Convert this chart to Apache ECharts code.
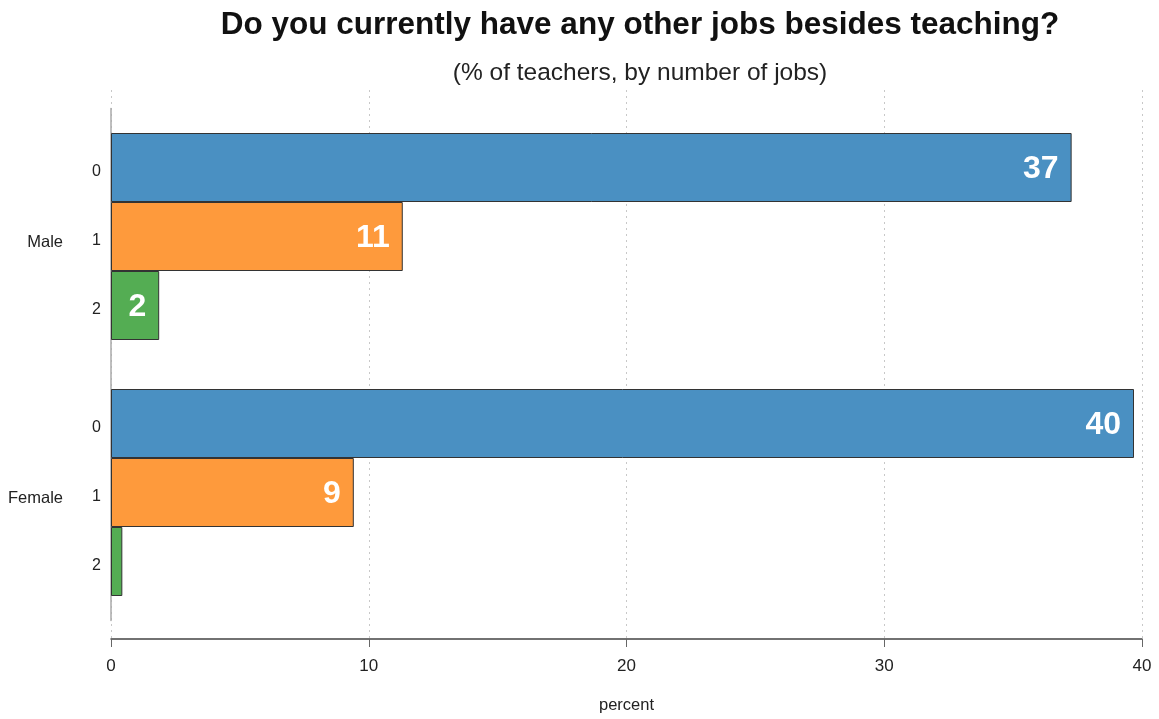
<!DOCTYPE html>
<html>
<head>
<meta charset="UTF-8">
<title>Other jobs besides teaching</title>
<script src="https://cdn.jsdelivr.net/npm/echarts@6/dist/echarts.min.js"></script>
<style>
  html, body { margin: 0; padding: 0; background: #fff; }
  #main { width: 1159px; height: 719px; }
</style>
</head>
<body>
<div id="main"></div>
<script type="text/javascript">
// data
var genders = ['Male', 'Female'];
var jobCounts = ['0', '1', '2'];
var jobs0 = [37.27, 39.69];
var jobs1 = [11.32, 9.42];
var jobs2 = [1.87, 0.44];
var xTicks = [0, 10, 20, 30, 40];

var FONT = "'Liberation Sans', Arial, sans-serif";
var colors = ['#4a90c2', '#fe9a3c', '#54ad53'];
var valueSets = [jobs0, jobs1, jobs2];

var myChart = echarts.init(document.getElementById('main'));

var series = [];
jobCounts.forEach(function (name, i) {
    // zero-length bar only to carry the "0 / 1 / 2" label left of each bar
    series.push({
        name: 'lbl' + name,
        type: 'bar',
        xAxisIndex: 1,
        yAxisIndex: 1,
        stack: 's' + i,
        barWidth: 69,
        barGap: '0%',
        silent: true,
        itemStyle: { color: 'rgba(0,0,0,0)' },
        label: {
            show: true,
            position: 'left',
            distance: 10,
            offset: [0, 4],
            formatter: function () { return name; },
            color: '#222',
            fontSize: 16,
            fontFamily: FONT
        },
        data: genders.map(function () { return 0; })
    });
    series.push({
        name: name,
        type: 'bar',
        xAxisIndex: 1,
        yAxisIndex: 1,
        stack: 's' + i,
        barWidth: 69,
        barGap: '0%',
        itemStyle: { color: colors[i], borderColor: '#333', borderWidth: 1 },
        label: {
            show: true,
            position: 'insideRight',
            distance: 13,
            offset: [0, 2],
            color: '#fff',
            fontSize: 32,
            fontWeight: 'bold',
            fontFamily: FONT,
            formatter: function (p) { return Math.round(p.value); }
        },
        data: valueSets[i].map(function (v) {
            // the tiny female bar has no number on it
            return v < 1 ? { value: v, label: { show: false } } : v;
        })
    });
});

option = {
    backgroundColor: '#fff',
    animation: false,
    title: {
        text: 'Do you currently have any other jobs besides teaching?',
        subtext: '(% of teachers, by number of jobs)',
        left: 640,
        textAlign: 'center',
        top: 9,
        padding: 0,
        itemGap: 20,
        textStyle: { fontFamily: FONT, fontSize: 31.5, fontWeight: 'bold', color: '#111' },
        subtextStyle: { fontFamily: FONT, fontSize: 24.5, color: '#222' }
    },
    grid: [
        { left: 111, right: 17, top: 90, bottom: 79 },
        { left: 111, right: 17, top: 108.5, bottom: 98.5 }
    ],
    xAxis: [{
        gridIndex: 0,
        type: 'value',
        min: 0,
        max: 40,
        interval: 10,
        name: 'percent',
        nameLocation: 'middle',
        nameGap: 58,
        nameTextStyle: { fontFamily: FONT, fontSize: 16.5, color: '#222' },
        axisLine: { show: true, lineStyle: { color: '#444', width: 1.5 } },
        axisTick: { show: true, length: 8, lineStyle: { color: '#666' } },
        axisLabel: { fontFamily: FONT, fontSize: 17, color: '#222', margin: 19,
            customValues: xTicks },
        splitLine: { show: true, lineStyle: { type: [2, 4], color: '#c8c8c8' } }
    }, {
        gridIndex: 1,
        type: 'value',
        min: 0,
        max: 40,
        show: false
    }],
    yAxis: [{
        gridIndex: 0,
        type: 'value',
        show: false
    }, {
        gridIndex: 1,
        type: 'category',
        inverse: true,
        data: genders,
        axisLine: { show: true, lineStyle: { color: '#aaa', width: 1.5 } },
        axisTick: { show: false },
        axisLabel: {
            margin: 48,
            formatter: function (v) { return '{g|' + v + '}'; },
            rich: {
                g: { fontFamily: FONT, fontSize: 16.5, color: '#222', padding: [12, 0, 0, 0] }
            }
        },
        splitLine: { show: false }
    }],
    series: series
};
myChart.setOption(option);
</script>
</body>
</html>
